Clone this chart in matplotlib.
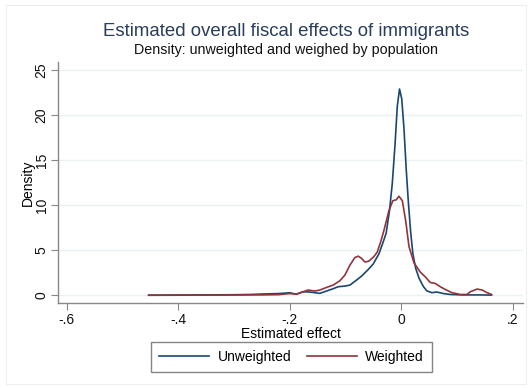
import numpy as np
import matplotlib
matplotlib.use("Agg")
import matplotlib.pyplot as plt
from matplotlib.patches import Rectangle

plt.rcParams['font.family'] = ['Liberation Sans', 'DejaVu Sans']

# density estimates
unw_x = [-0.453, -0.40, -0.35, -0.30, -0.27, -0.25, -0.22, -0.20, -0.188, -0.176,
         -0.164, -0.146, -0.134, -0.122, -0.113, -0.101, -0.092, -0.080, -0.071,
         -0.059, -0.050, -0.040, -0.033, -0.027, -0.021, -0.016, -0.011, -0.007,
         -0.003, 0.001, 0.005, 0.009, 0.013, 0.017, 0.021, 0.026, 0.032, 0.040,
         0.046, 0.055, 0.064, 0.076, 0.088, 0.110, 0.140, 0.162]
unw_y = [0.02, 0.04, 0.05, 0.07, 0.1, 0.15, 0.2, 0.29, 0.12, 0.4,
         0.37, 0.22, 0.48, 0.74, 0.96, 1.03, 1.14, 1.7, 2.14,
         2.88, 3.5, 4.6, 5.8, 6.9, 9.4, 12.4, 16.8, 21.0,
         22.9, 21.8, 18.5, 14.0, 10.2, 7.0, 4.6, 3.0, 1.9, 0.96,
         0.5, 0.3, 0.37, 0.2, 0.1, 0.05, 0.05, 0.03]

wgt_x = [-0.453, -0.40, -0.35, -0.30, -0.27, -0.25, -0.22, -0.20, -0.188, -0.176,
         -0.167, -0.155, -0.146, -0.134, -0.122, -0.110, -0.101, -0.092, -0.083,
         -0.077, -0.071, -0.065, -0.058, -0.049, -0.043, -0.037, -0.031, -0.022,
         -0.015, -0.009, -0.004, 0.002, 0.008, 0.014, 0.023, 0.034, 0.043, 0.052,
         0.061, 0.070, 0.079, 0.091, 0.106, 0.118, 0.124, 0.136, 0.145, 0.154, 0.162]
wgt_y = [0.01, 0.02, 0.03, 0.04, 0.05, 0.05, 0.08, 0.2, 0.14, 0.4,
         0.59, 0.48, 0.59, 0.88, 1.14, 1.62, 2.25, 3.35, 4.2,
         4.35, 4.1, 3.7, 3.8, 4.3, 4.8, 5.9, 7.2, 9.4,
         10.5, 10.6, 11.0, 10.5, 8.3, 5.4, 3.6, 2.6, 2.07, 1.43,
         1.33, 0.96, 0.66, 0.3, 0.1, 0.1, 0.4, 0.7, 0.6, 0.3, 0.1]

x_ticks = [-0.6, -0.4, -0.2, 0.0, 0.2]
x_tick_labels = ["-.6", "-.4", "-.2", "0", ".2"]
y_ticks = [0, 5, 10, 15, 20, 25]

BLUE = "#1a476f"
RED = "#90353b"
GRID = "#eaf2f3"

fig = plt.figure(figsize=(5.32, 3.88), dpi=100)
ax = fig.add_axes([0.1096, 0.219, 0.873, 0.622])

ax.plot(unw_x, unw_y, color=BLUE, lw=1.2, label="Unweighted")
ax.plot(wgt_x, wgt_y, color=RED, lw=1.2, label="Weighted")

ax.set_xlim(-0.615, 0.218)
ax.set_ylim(-0.85, 25.93)
ax.set_xticks(x_ticks)
ax.set_xticklabels(x_tick_labels)
ax.set_yticks(y_ticks)
ax.set_yticklabels([str(v) for v in y_ticks], rotation=90, va="center")
ax.grid(axis="y", color=GRID, lw=1.0)
ax.set_axisbelow(True)

for side in ["top", "right"]:
    ax.spines[side].set_visible(False)
for side in ["left", "bottom"]:
    ax.spines[side].set_color("#888888")
    ax.spines[side].set_linewidth(1.0)
ax.tick_params(axis="both", direction="out", length=5, color="#888888",
               labelsize=10, labelcolor="#111111", pad=2)

ax.set_xlabel("Estimated effect", fontsize=10, labelpad=0)
ax.set_ylabel("Density", fontsize=10, labelpad=0)

fig.text(0.537, 0.92, "Estimated overall fiscal effects of immigrants",
         ha="center", va="center", fontsize=13.4, color="#2a3d5c")
fig.text(0.537, 0.871, "Density: unweighted and weighed by population",
         ha="center", va="center", fontsize=10.3, color="#111111")

leg = fig.legend(loc="center", bbox_to_anchor=(0.548, 0.08), ncol=2,
                 frameon=True, fancybox=False, fontsize=10, handlelength=3.6,
                 handletextpad=0.6, columnspacing=1.1, borderpad=0.6)
leg.get_frame().set_edgecolor("#666666")
leg.get_frame().set_linewidth(1.0)

fig.patches.append(Rectangle((0.011, 0.01), 0.978, 0.977, transform=fig.transFigure,
                             fill=False, edgecolor="#eeeeee", lw=0.8))

fig.savefig("out.png", dpi=100)
